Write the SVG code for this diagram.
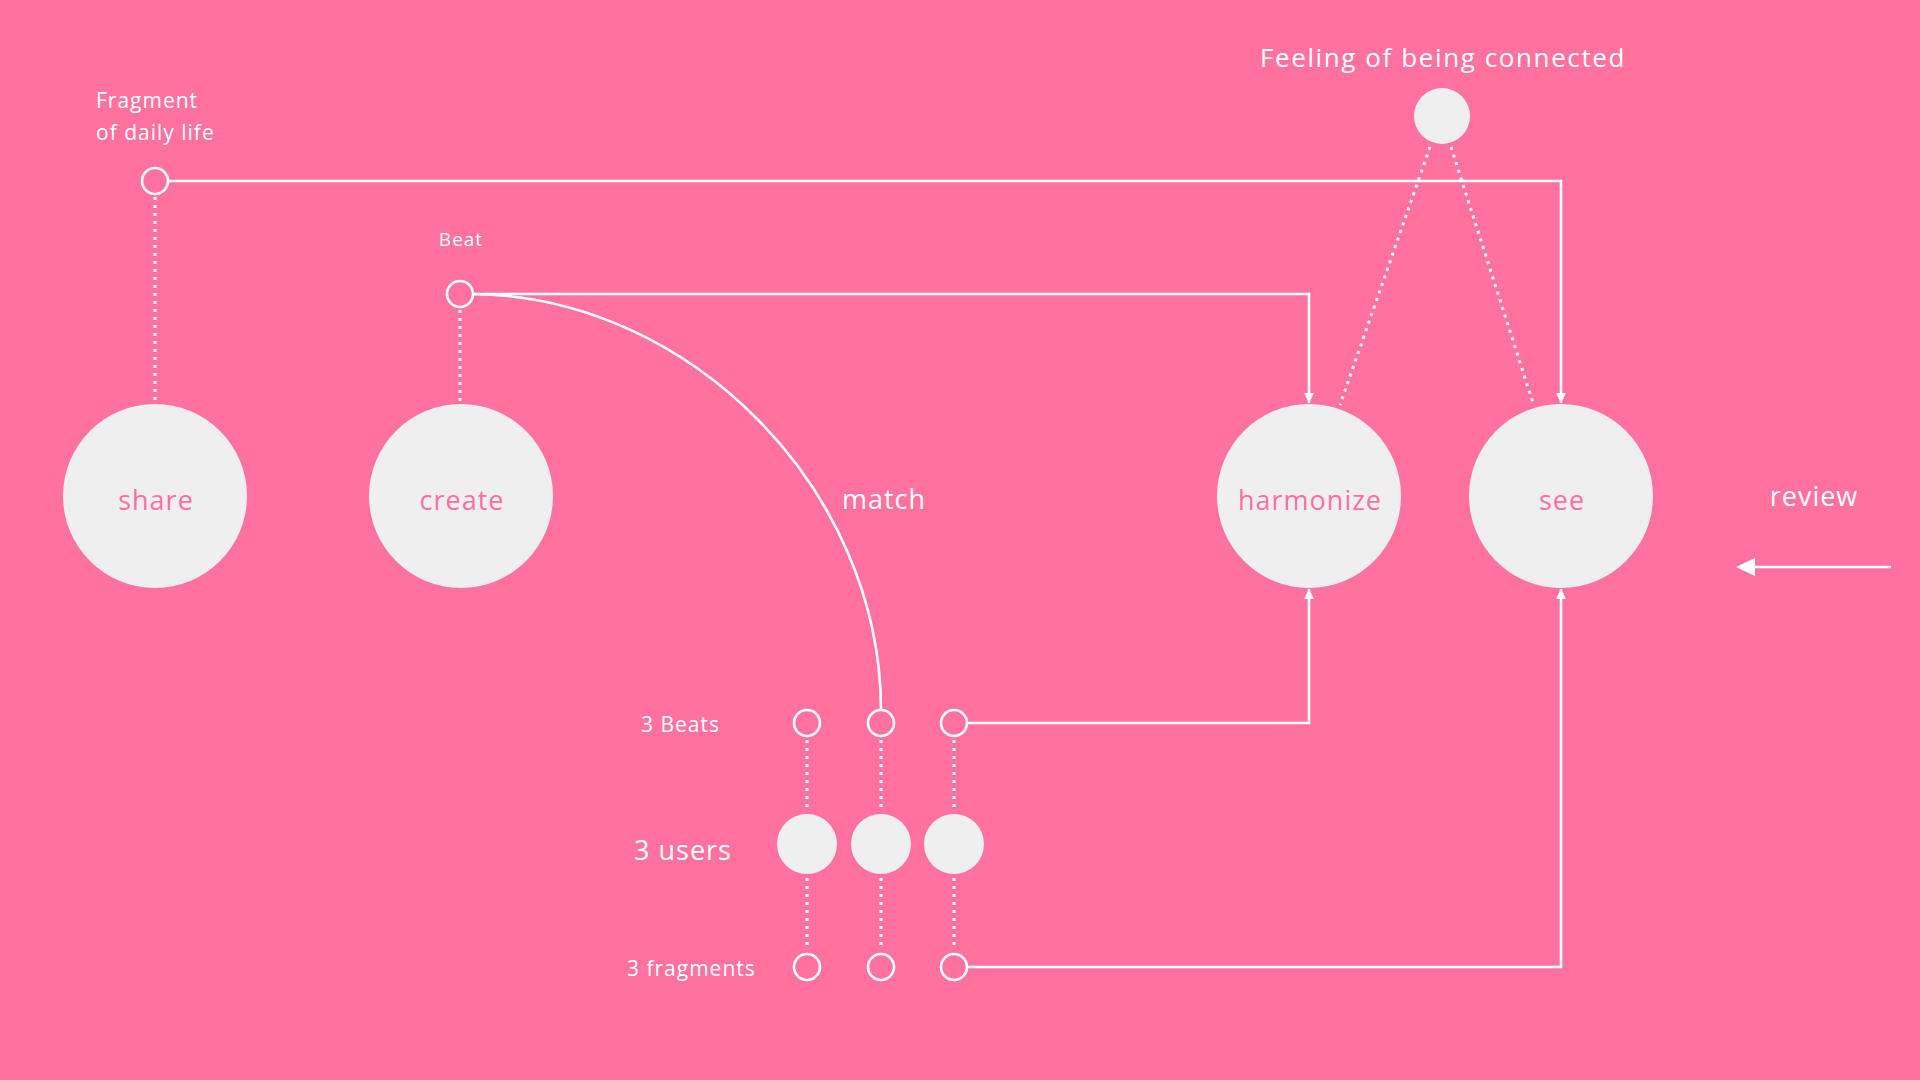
<svg xmlns="http://www.w3.org/2000/svg" width="1920" height="1080" viewBox="0 0 1920 1080">
<style>
.lbl{font-family:"Open Sans","Noto Sans","Liberation Sans",sans-serif;fill:#ffffff;letter-spacing:1px}
.in{font-family:"Open Sans","Noto Sans","Liberation Sans",sans-serif;fill:#ff6f9f;font-size:27px;text-anchor:middle;letter-spacing:1px}
.big{fill:#efefef}
.port{fill:none;stroke:#ffffff;stroke-width:2.6}
.line{fill:none;stroke:#ffffff;stroke-width:2.6}
.dot{fill:none;stroke:#ffffff;stroke-width:3;stroke-dasharray:3 5}
</style>
<defs>
<marker id="ah" viewBox="0 0 10 10" refX="10" refY="5" markerWidth="4" markerHeight="4" orient="auto" markerUnits="strokeWidth">
<path d="M0,0 L10,5 L0,10 z" fill="#ffffff"/>
</marker>
</defs>
<rect width="1920" height="1080" fill="#ff729f"/>

<g id="connectors">
<line class="dot" x1="155" y1="197" x2="155" y2="403"/>
<line class="dot" x1="460" y1="310" x2="460" y2="403"/>
<line class="dot" x1="1430" y1="147" x2="1340" y2="405"/>
<line class="dot" x1="1451" y1="147" x2="1533" y2="403"/>
<line class="dot" x1="807" y1="740" x2="807" y2="812"/>
<line class="dot" x1="881" y1="740" x2="881" y2="812"/>
<line class="dot" x1="954" y1="740" x2="954" y2="812"/>
<line class="dot" x1="807" y1="878" x2="807" y2="950"/>
<line class="dot" x1="881" y1="878" x2="881" y2="950"/>
<line class="dot" x1="954" y1="878" x2="954" y2="950"/>
<path class="line" d="M168,181 H1561 V403" marker-end="url(#ah)"/>
<path class="line" d="M473,294 H1309 V403" marker-end="url(#ah)"/>
<path class="line" d="M473,294 C690,296 881,490 881,710"/>
<path class="line" d="M967,723 H1309 V589" marker-end="url(#ah)"/>
<path class="line" d="M967,967 H1561 V589" marker-end="url(#ah)"/>
<line class="line" x1="1891" y1="567" x2="1752" y2="567" stroke-width="3"/>
<path d="M1736,567 L1755,558 L1755,576 z" fill="#ffffff"/>
<text class="lbl" x="842" y="509" font-size="27">match</text>
</g>

<g id="fragment-port">
<circle class="port" cx="155" cy="181" r="13"/>
<text class="lbl" x="96" y="108" font-size="21">Fragment</text>
<text class="lbl" x="96" y="140" font-size="21">of daily life</text>
</g>
<g id="beat-port">
<circle class="port" cx="460" cy="294" r="13"/>
<text class="lbl" x="461" y="246" font-size="19" text-anchor="middle">Beat</text>
</g>
<g id="feeling">
<circle class="big" cx="1442" cy="116" r="28"/>
<text class="lbl" x="1443" y="67" font-size="26" text-anchor="middle" style="letter-spacing:1.6px">Feeling of being connected</text>
</g>
<g id="share"><circle class="big" cx="155" cy="496" r="92"/><text class="in" x="156" y="510">share</text></g>
<g id="create"><circle class="big" cx="461" cy="496" r="92"/><text class="in" x="462" y="510">create</text></g>
<g id="harmonize"><circle class="big" cx="1309" cy="496" r="92"/><text class="in" x="1310" y="510">harmonize</text></g>
<g id="see"><circle class="big" cx="1561" cy="496" r="92"/><text class="in" x="1562" y="510">see</text></g>
<g id="review"><text class="lbl" x="1814" y="506" font-size="27" text-anchor="middle">review</text></g>

<g id="beats">
<text class="lbl" x="641" y="732" font-size="21">3 Beats</text>
<circle class="port" cx="807" cy="723" r="13"/>
<circle class="port" cx="881" cy="723" r="13"/>
<circle class="port" cx="954" cy="723" r="13"/>
</g>
<g id="users">
<text class="lbl" x="634" y="860" font-size="27">3 users</text>
<circle class="big" cx="807" cy="844" r="30"/>
<circle class="big" cx="881" cy="844" r="30"/>
<circle class="big" cx="954" cy="844" r="30"/>
</g>
<g id="fragments">
<text class="lbl" x="627" y="976" font-size="21">3 fragments</text>
<circle class="port" cx="807" cy="967" r="13"/>
<circle class="port" cx="881" cy="967" r="13"/>
<circle class="port" cx="954" cy="967" r="13"/>
</g>
</svg>
